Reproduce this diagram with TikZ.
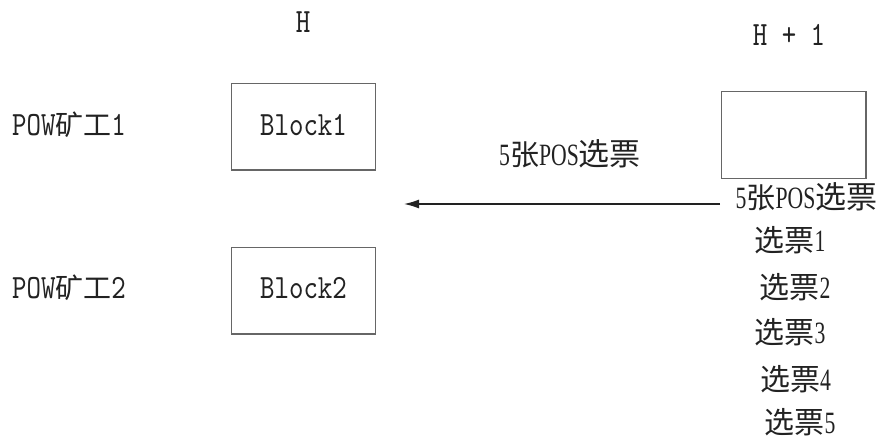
\documentclass[tikz,border=0pt]{standalone}
\usepackage{fontspec}
\setmainfont{Liberation Serif}
\newfontfamily\monof[FakeStretch=0.81]{lmmono10-regular.otf}
\newfontfamily\serifn[FakeStretch=0.7]{Liberation Serif}
\newfontfamily\cjk{Noto Sans CJK SC}
\usetikzlibrary{arrows.meta}
\newcommand\mtA{\fontsize{34}{40}\selectfont\monof}
\newcommand\mtB{\fontsize{31}{36}\selectfont\serifn}
\newcommand\zh[2]{{\fontsize{#1}{#1}\selectfont\cjk #2}}
\definecolor{ink}{HTML}{222222}
\definecolor{boxline}{HTML}{666666}
\tikzset{
  txt/.style={anchor=base, inner sep=0pt, text=ink},
  blockbox/.style={draw=boxline, line width=1.3pt, minimum width=144.4pt, minimum height=86.7pt,
    inner sep=0pt, text height=22pt, text depth=5.4pt, text=ink},
  conn/.style={draw=ink, line width=1.3pt, -{Latex[length=15pt,width=9pt]}}
}
\begin{document}
\begin{tikzpicture}[x=1pt,y=-1pt]
\useasboundingbox (0,0) rectangle (882,442);
% column headers
\node[txt] (hlab) at (303,32) {\mtA H};
\node[txt] (h1lab) at (789,45) {\mtA H + 1};
% miners
\node[txt] (pow1) at (69,135) {\mtA POW\zh{28}{矿工}1};
\node[txt] (pow2) at (69,298) {\mtA POW\zh{28}{矿工}2};
% blocks
\node[blockbox] (blk1) at (303.5,126.7) {\mtA Block1};
\node[blockbox] (blk2) at (303.5,290.5) {\mtA Block2};
\node[blockbox] (blk3) at (793.7,135) {};
% labels
\node[txt] (votesmid) at (570,165) {\mtB 5\zh{29}{张}POS\zh{31}{选票}};
\node[txt] (votes) at (806.5,208) {\mtB 5\zh{29}{张}POS\zh{31}{选票}};
\node[txt] (v1) at (790,251) {\zh{30}{选票}\mtB 1};
\node[txt] (v2) at (795,298) {\zh{30}{选票}\mtB 2};
\node[txt] (v3) at (790,343) {\zh{30}{选票}\mtB 3};
\node[txt] (v4) at (795.5,390) {\zh{30}{选票}\mtB 4};
\node[txt] (v5) at (800,433) {\zh{30}{选票}\mtB 5};
% arrow
\coordinate (arrS) at (720,204);
\coordinate (arrE) at (404,204);
\draw[conn] (arrS) -- (arrE);
\end{tikzpicture}
\end{document}
